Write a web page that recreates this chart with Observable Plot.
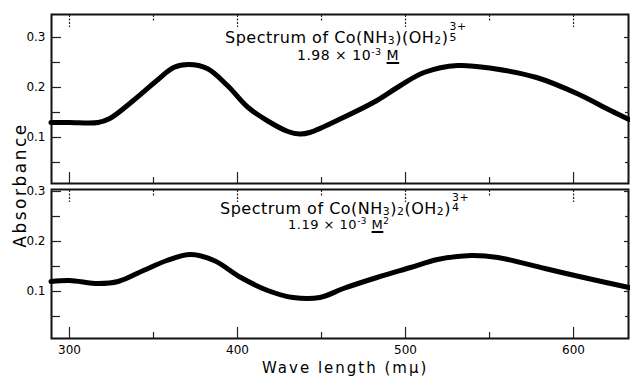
<!DOCTYPE html>
<html>
<head>
<meta charset="utf-8">
<script src="https://cdn.jsdelivr.net/npm/d3@7"></script>
<script src="https://cdn.jsdelivr.net/npm/@observablehq/plot@0.6"></script>
<style>
  html, body { margin: 0; padding: 0; background: #fff; }
  #wrap { position: relative; width: 630px; height: 380px; overflow: hidden; background: #fff;
          font-family: "DejaVu Sans", sans-serif; color: #000; }
  #wrap > .plot { position: absolute; left: 0; }
  .t { position: absolute; white-space: nowrap; line-height: 1; letter-spacing: 0.5px; font-weight: normal; color: #000; }
  .t sub { font-size: 0.68em; vertical-align: -0.1em; line-height: 0; }
  .t sup { font-size: 0.68em; vertical-align: 0.55em; line-height: 0; }
  .ss { position: relative; display: inline-block; font-size: 0.68em; width: 1.2em; height: 1em; line-height: 1; }
  .ss .sp { position: absolute; left: 0.1em; top: -0.9em; }
  .ss .sb { position: absolute; left: 0.1em; top: 0.05em; }
  .ul { text-decoration: underline; text-underline-offset: 2px; text-decoration-thickness: 1.5px; }
</style>
</head>
<body>
<div id="wrap">
  <div class="t" id="t1" style="left:225px; top:30px; font-size:16px;">Spectrum of Co(NH<sub>3</sub>)(OH<sub>2</sub>)<span class="ss"><span class="sp">3+</span><span class="sb">5</span></span></div>
  <div class="t" id="s1" style="left:297px; top:47.5px; font-size:14px;">1.98 × 10<sup>-3</sup> <span class="ul">M</span></div>
  <div class="t" id="t2" style="left:220px; top:200.5px; font-size:16px;">Spectrum of Co(NH<sub>3</sub>)<sub>2</sub>(OH<sub>2</sub>)<span class="ss"><span class="sp">3+</span><span class="sb">4</span></span></div>
  <div class="t" id="s2" style="left:288px; top:217.5px; font-size:13px;">1.19 × 10<sup>-3</sup> <span class="ul">M</span><sup>2</sup></div>
  <div class="t" id="yl" style="left:20px; top:185px; font-size:17px; transform: translate(-50%,-50%) rotate(-90deg); letter-spacing:2.5px;">Absorbance</div>
  <div class="t" id="xl" style="left:262px; top:361px; font-size:15px; letter-spacing:2px;">Wave length (mμ)</div>
</div>
<script>
// ---- data ----
const topWavelength = [289, 300, 317, 324, 338, 352, 362, 371, 382, 394, 406, 418, 430, 437, 443, 463, 483, 497, 511, 531, 552, 578, 602, 622, 633];
const topAbsorbance = [0.130, 0.130, 0.130, 0.138, 0.174, 0.214, 0.240, 0.246, 0.238, 0.204, 0.161, 0.133, 0.112, 0.107, 0.110, 0.140, 0.174, 0.204, 0.230, 0.244, 0.238, 0.220, 0.188, 0.154, 0.136];

const bottomWavelength = [289, 300, 317, 329, 344, 358, 372, 386, 402, 418, 433, 449, 463, 483, 503, 519, 539, 555, 583, 606, 633];
const bottomAbsorbance = [0.120, 0.122, 0.116, 0.120, 0.142, 0.162, 0.174, 0.162, 0.128, 0.102, 0.088, 0.088, 0.106, 0.128, 0.148, 0.164, 0.172, 0.168, 0.146, 0.128, 0.108];

const xMajorTicks = [300, 400, 500, 600];
const xMinorTicks = [350, 450, 550];
const yMajorTicks = [0.1, 0.2, 0.3];
const yMinorTicks = [0.05, 0.15, 0.25];
const xDomain = [289.3, 632.7];
const topYDomain = [0.008, 0.346];
const bottomYDomain = [0.006, 0.304];

const topData = topWavelength.map((w, i) => ({w, a: topAbsorbance[i]}));
const bottomData = bottomWavelength.map((w, i) => ({w, a: bottomAbsorbance[i]}));

const blank = () => "";
const tickStyle = {stroke: "#222", strokeWidth: 1.2, label: null, tickFormat: blank};

function panel(data, yDomain, height, marginTop, marginBottom, showX) {
  const marks = [
    Plot.frame({stroke: "#111", strokeWidth: 2}),
    // left inward ticks
    Plot.axisY(yMajorTicks, {anchor: "left", tickSize: -10, ...tickStyle}),
    Plot.axisY(yMinorTicks, {anchor: "left", tickSize: -9, ...tickStyle}),
    // right inward ticks
    Plot.axisY(yMajorTicks, {anchor: "right", tickSize: -5, ...tickStyle}),
    Plot.axisY(yMinorTicks, {anchor: "right", tickSize: -4, ...tickStyle}),
    // top / bottom inward ticks
    Plot.axisX(xMajorTicks, {anchor: "top", tickSize: -12, ...tickStyle, strokeDasharray: "2,1.5"}),
    Plot.axisX(xMinorTicks, {anchor: "top", tickSize: -6, ...tickStyle, strokeDasharray: "2,1.5"}),
    Plot.axisX(xMajorTicks, {anchor: "bottom", tickSize: -11, ...tickStyle}),
    Plot.axisX(xMinorTicks, {anchor: "bottom", tickSize: -6, ...tickStyle}),
    // left labels
    Plot.axisY(yMajorTicks, {anchor: "left", tickSize: 0, tickPadding: 6, label: null, fontSize: 12,
      tickFormat: d => d.toFixed(1)}),
    Plot.line(data, {x: "w", y: "a", curve: "catmull-rom", stroke: "#000", strokeWidth: 5, strokeLinecap: "round"})
  ];
  if (showX) {
    marks.push(Plot.axisX(xMajorTicks, {anchor: "bottom", tickSize: 0, tickPadding: 7, label: null, fontSize: 12,
      tickFormat: d => String(d)}));
  }
  return Plot.plot({
    width: 630, height,
    marginLeft: 51, marginRight: 2, marginTop, marginBottom,
    x: {domain: xDomain},
    y: {domain: yDomain},
    style: {fontFamily: "DejaVu Sans, sans-serif", color: "#000", background: "transparent"},
    marks
  });
}

const wrap = document.getElementById("wrap");
const p1 = panel(topData, topYDomain, 186, 14, 3, false);
p1.classList.add("plot");
p1.style.top = "0px";
const p2 = panel(bottomData, bottomYDomain, 204, 13, 42, true);
p2.classList.add("plot");
p2.style.top = "176px";
wrap.insertBefore(p2, wrap.firstChild);
wrap.insertBefore(p1, wrap.firstChild);
</script>
</body>
</html>
